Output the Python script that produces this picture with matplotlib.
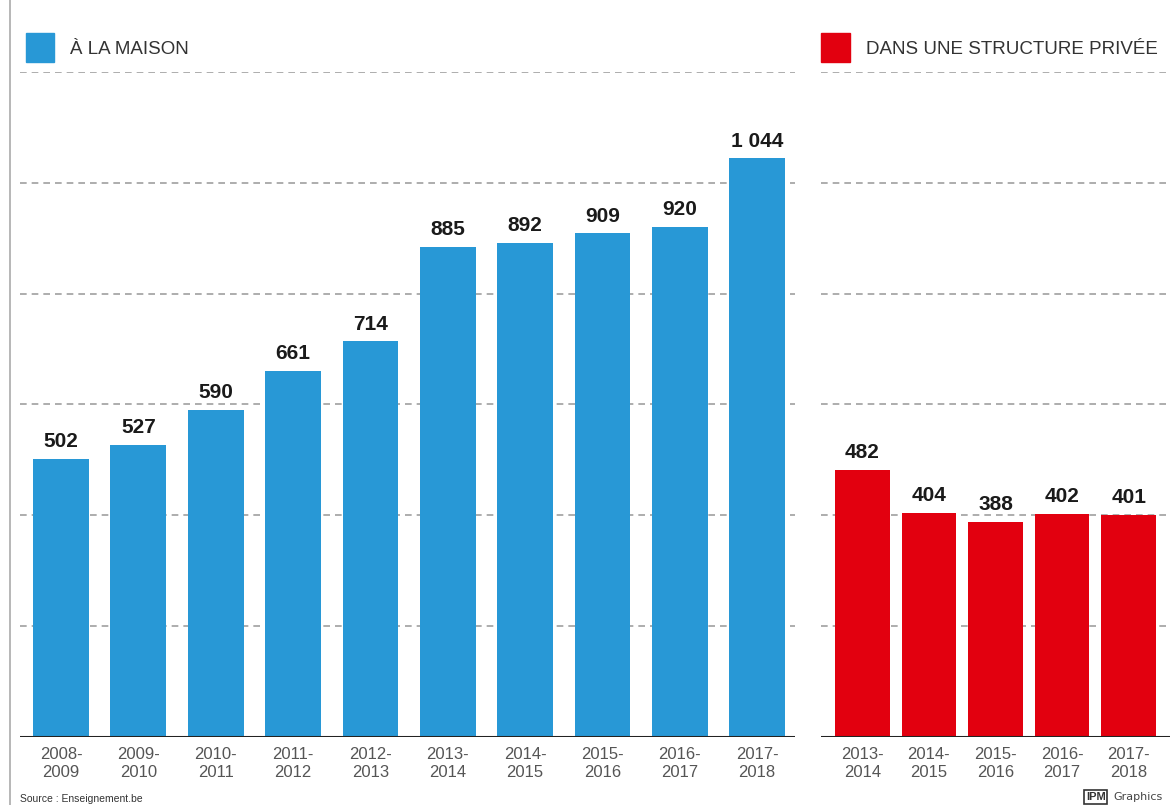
import matplotlib.pyplot as plt
from matplotlib.lines import Line2D
from matplotlib.patches import Rectangle

# data
home_years = ['2008-\n2009', '2009-\n2010', '2010-\n2011', '2011-\n2012', '2012-\n2013',
              '2013-\n2014', '2014-\n2015', '2015-\n2016', '2016-\n2017', '2017-\n2018']
home_values = [502, 527, 590, 661, 714, 885, 892, 909, 920, 1044]
home_labels = ['502', '527', '590', '661', '714', '885', '892', '909', '920', '1 044']

private_years = ['2013-\n2014', '2014-\n2015', '2015-\n2016', '2016-\n2017', '2017-\n2018']
private_values = [482, 404, 388, 402, 401]

grid_levels = [200, 400, 600, 800, 1000, 1200]

BLUE = '#2898d6'
RED = '#e2000f'

plt.rcParams['font.family'] = ['Liberation Sans', 'DejaVu Sans']

fig = plt.figure(figsize=(11.72, 8.05), dpi=100)
bottom = 1 - 737 / 805
height = (737 - 72) / 805
ax1 = fig.add_axes([20 / 1172, bottom, (795 - 20) / 1172, height])
ax2 = fig.add_axes([821 / 1172, bottom, (1170 - 821) / 1172, height])


def draw_panel(ax, years, values, labels, color, width, xlim):
    x = list(range(len(values)))
    for g in grid_levels:
        ax.axhline(g, color='#a0a0a0', lw=1.2, ls=(0, (4, 3)), zorder=0)
    ax.bar(x, values, width=width, color=color, zorder=2)
    for xi, v, lab in zip(x, values, labels):
        ax.text(xi, v + 14, lab, ha='center', va='bottom', fontsize=15,
                fontweight='bold', color='#1a1a1a')
    ax.axhline(0, color='#222222', lw=2.2, zorder=3)
    ax.set_ylim(0, 1200)
    ax.set_xlim(*xlim)
    ax.set_xticks(x)
    ax.set_xticklabels(years, fontsize=12, color='#555555', linespacing=1.3)
    ax.tick_params(axis='x', length=0, pad=7)
    ax.set_yticks([])
    for s in ax.spines.values():
        s.set_visible(False)


draw_panel(ax1, home_years, home_values, home_labels, BLUE, 0.72, (-0.53, 9.49))
draw_panel(ax2, private_years, private_values, [str(v) for v in private_values],
           RED, 0.82, (-0.62, 4.62))

# legend squares and titles
fig.add_artist(Rectangle((26 / 1172, 1 - 62 / 805), 28 / 1172, 29 / 805,
                         transform=fig.transFigure, color=BLUE))
fig.text(70 / 1172, 1 - 49 / 805, 'À LA MAISON', fontsize=13.5, color='#333333',
         va='center', ha='left')
fig.add_artist(Rectangle((821 / 1172, 1 - 62 / 805), 29 / 1172, 29 / 805,
                         transform=fig.transFigure, color=RED))
fig.text(866 / 1172, 1 - 49 / 805, 'DANS UNE STRUCTURE PRIVÉE', fontsize=13.5,
         color='#333333', va='center', ha='left')

# left vertical rule
fig.add_artist(Line2D([10 / 1172, 10 / 1172], [0, 1], transform=fig.transFigure,
                      color='#aaaaaa', lw=1.2))

# footer
fig.text(20 / 1172, 1 - 799 / 805, 'Source : Enseignement.be', fontsize=7.5,
         color='#333333', va='center', ha='left')
fig.text(1086 / 1172, 1 - 797 / 805, 'IPM', fontsize=8, fontweight='bold',
         color='#333333', va='center', ha='left',
         bbox=dict(boxstyle='square,pad=0.15', fc='white', ec='#333333', lw=1.2))
fig.text(1113 / 1172, 1 - 797 / 805, 'Graphics', fontsize=8, color='#444444',
         va='center', ha='left', family='DejaVu Sans')

fig.savefig('out.png', dpi=100)
